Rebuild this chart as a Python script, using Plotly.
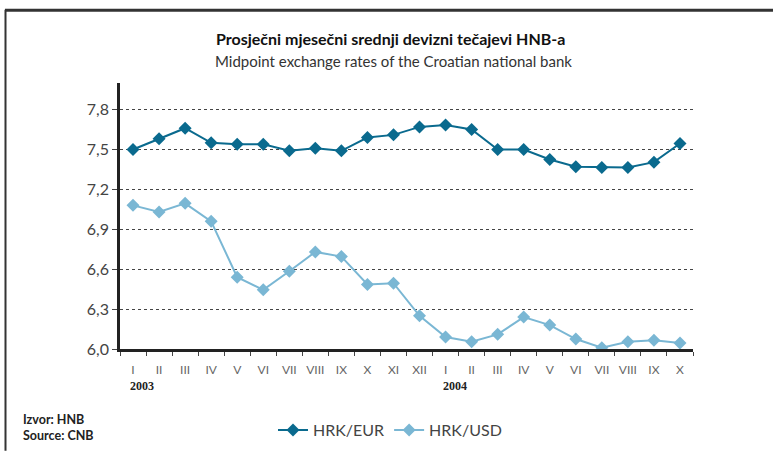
import plotly.graph_objects as go

months = ["I", "II", "III", "IV", "V", "VI", "VII", "VIII", "IX", "X", "XI", "XII",
          "I", "II", "III", "IV", "V", "VI", "VII", "VIII", "IX", "X"]
years = ["2003", "2004"]
year_start_idx = [0, 12]
eur = [7.50, 7.58, 7.66, 7.55, 7.54, 7.54, 7.49, 7.51, 7.49, 7.59, 7.61, 7.67,
       7.685, 7.65, 7.50, 7.50, 7.425, 7.37, 7.365, 7.365, 7.405, 7.545]
usd = [7.08, 7.03, 7.095, 6.96, 6.54, 6.445, 6.585, 6.73, 6.695, 6.485, 6.495, 6.25,
       6.09, 6.055, 6.11, 6.24, 6.18, 6.075, 6.01, 6.055, 6.065, 6.045]
y_ticks = [6.0, 6.3, 6.6, 6.9, 7.2, 7.5, 7.8]

x = list(range(len(months)))
EUR_C = "#0a6a8e"
USD_C = "#7ab7d4"

fig = go.Figure()
fig.add_trace(go.Scatter(x=x, y=eur, name="HRK/EUR", mode="lines+markers",
                         line=dict(color=EUR_C, width=2),
                         marker=dict(symbol="diamond", size=10, color=EUR_C)))
fig.add_trace(go.Scatter(x=x, y=usd, name="HRK/USD", mode="lines+markers",
                         line=dict(color=USD_C, width=2),
                         marker=dict(symbol="diamond", size=10, color=USD_C)))

W, H = 773, 459
L, R, T, B = 120, 80, 83, 104
pw, ph = W - L - R, H - T - B

def px(xp):
    return (xp - L) / pw

def py(yp):
    return (H - B - yp) / ph

fig.update_layout(
    width=W, height=H,
    margin=dict(l=L, r=R, t=T, b=B),
    paper_bgcolor="white", plot_bgcolor="white",
    separators=", ",
    font=dict(family="Lato, sans-serif", color="#444"),
    showlegend=True,
    legend=dict(orientation="h", x=px(390), y=py(438), xanchor="center", yanchor="middle",
                font=dict(size=16, color="#444"), itemwidth=30, bgcolor="rgba(0,0,0,0)"),
    xaxis=dict(range=[-0.5, len(months) - 0.5], tickmode="array", tickvals=x, ticktext=months,
               showgrid=False, zeroline=False, showline=True, linecolor="#222", linewidth=3,
               ticks="", ticklabelstandoff=8, tickfont=dict(size=12, color="#666"),
               minor=dict(ticks="outside", tick0=-0.5, dtick=1, ticklen=4, tickcolor="#444",
                          tickwidth=1, showgrid=False)),
    yaxis=dict(range=[6.0, 8.0], tickmode="array", tickvals=y_ticks, tickformat=".1f",
               showgrid=True, gridcolor="#444", griddash="dot", gridwidth=1,
               zeroline=False, showline=True, linecolor="#222", linewidth=2.5,
               ticks="outside", ticklen=5, tickcolor="#444",
               tickfont=dict(size=16, color="#444")),
)

fig.add_annotation(text="<b>Prosječni mjesečni srednji devizni tečajevi HNB-a</b>",
                   xref="paper", yref="paper", x=px(390), y=py(37), showarrow=False,
                   xanchor="center", yanchor="middle",
                   font=dict(size=16, color="#111"))
fig.add_annotation(text="Midpoint exchange rates of the Croatian national bank",
                   xref="paper", yref="paper", x=px(393), y=py(61), showarrow=False,
                   xanchor="center", yanchor="middle",
                   font=dict(size=15, color="#333"))
for yr, idx in zip(years, year_start_idx):
    fig.add_annotation(text="<b>" + yr + "</b>", xref="x", yref="paper", x=idx, xshift=-5,
                       y=py(393), showarrow=False, xanchor="left", yanchor="middle",
                       font=dict(family="Liberation Serif, serif", size=12, color="#222"))
fig.add_annotation(text="<b>Izvor: HNB</b>", xref="paper", yref="paper", x=px(21), y=py(427),
                   showarrow=False, xanchor="left", yanchor="middle",
                   font=dict(size=12.5, color="#222"))
fig.add_annotation(text="<b>Source: CNB</b>", xref="paper", yref="paper", x=px(21), y=py(443),
                   showarrow=False, xanchor="left", yanchor="middle",
                   font=dict(size=12.5, color="#222"))

fig.add_shape(type="line", xref="paper", yref="paper", x0=px(5), x1=px(773), y0=py(8.5), y1=py(8.5),
              line=dict(color="#333", width=3))
fig.add_shape(type="line", xref="paper", yref="paper", x0=px(5.5), x1=px(5.5), y0=py(8), y1=py(459),
              line=dict(color="#333", width=2))

fig.write_html("out.html", config={"displayModeBar": False},
               post_script="document.body.style.margin='0';document.body.style.overflow='hidden';")
